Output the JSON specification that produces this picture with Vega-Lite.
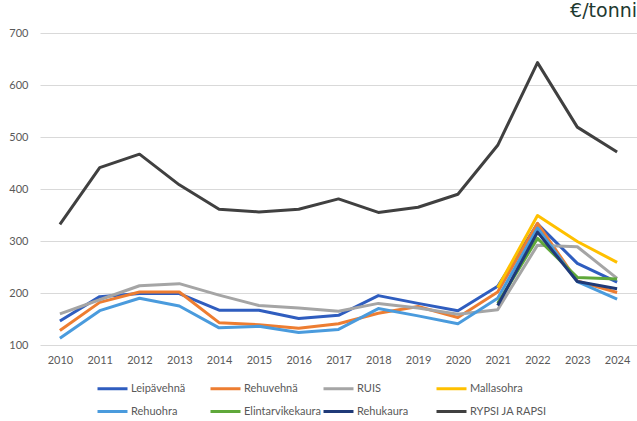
{
  "$schema": "https://vega.github.io/schema/vega-lite/v6.json",
  "autosize": "none",
  "width": 597,
  "height": 312,
  "padding": {"left": 40, "top": 33, "right": 0, "bottom": 76},
  "background": "white",
  "title": {"text": "€/tonni", "anchor": "end", "fontSize": 19, "font": "DejaVu Sans", "fontWeight": "normal", "color": "#1F3A30", "offset": 6},
  "config": {"view": {"stroke": null}},
  "data": {"values": [
    {"year": "2010", "series": "Leipävehnä", "value": 146},
    {"year": "2011", "series": "Leipävehnä", "value": 193},
    {"year": "2012", "series": "Leipävehnä", "value": 199},
    {"year": "2013", "series": "Leipävehnä", "value": 199},
    {"year": "2014", "series": "Leipävehnä", "value": 167},
    {"year": "2015", "series": "Leipävehnä", "value": 167},
    {"year": "2016", "series": "Leipävehnä", "value": 151},
    {"year": "2017", "series": "Leipävehnä", "value": 157},
    {"year": "2018", "series": "Leipävehnä", "value": 195},
    {"year": "2019", "series": "Leipävehnä", "value": 180},
    {"year": "2020", "series": "Leipävehnä", "value": 166},
    {"year": "2021", "series": "Leipävehnä", "value": 213},
    {"year": "2022", "series": "Leipävehnä", "value": 333},
    {"year": "2023", "series": "Leipävehnä", "value": 257},
    {"year": "2024", "series": "Leipävehnä", "value": 221},
    {"year": "2010", "series": "Rehuvehnä", "value": 128},
    {"year": "2011", "series": "Rehuvehnä", "value": 182},
    {"year": "2012", "series": "Rehuvehnä", "value": 202},
    {"year": "2013", "series": "Rehuvehnä", "value": 202},
    {"year": "2014", "series": "Rehuvehnä", "value": 143},
    {"year": "2015", "series": "Rehuvehnä", "value": 139},
    {"year": "2016", "series": "Rehuvehnä", "value": 132},
    {"year": "2017", "series": "Rehuvehnä", "value": 141},
    {"year": "2018", "series": "Rehuvehnä", "value": 161},
    {"year": "2019", "series": "Rehuvehnä", "value": 174},
    {"year": "2020", "series": "Rehuvehnä", "value": 153},
    {"year": "2021", "series": "Rehuvehnä", "value": 202},
    {"year": "2022", "series": "Rehuvehnä", "value": 334},
    {"year": "2023", "series": "Rehuvehnä", "value": 223},
    {"year": "2024", "series": "Rehuvehnä", "value": 201},
    {"year": "2010", "series": "RUIS", "value": 160},
    {"year": "2011", "series": "RUIS", "value": 187},
    {"year": "2012", "series": "RUIS", "value": 214},
    {"year": "2013", "series": "RUIS", "value": 218},
    {"year": "2014", "series": "RUIS", "value": 196},
    {"year": "2015", "series": "RUIS", "value": 176},
    {"year": "2016", "series": "RUIS", "value": 171},
    {"year": "2017", "series": "RUIS", "value": 165},
    {"year": "2018", "series": "RUIS", "value": 180},
    {"year": "2019", "series": "RUIS", "value": 171},
    {"year": "2020", "series": "RUIS", "value": 159},
    {"year": "2021", "series": "RUIS", "value": 168},
    {"year": "2022", "series": "RUIS", "value": 292},
    {"year": "2023", "series": "RUIS", "value": 289},
    {"year": "2024", "series": "RUIS", "value": 228},
    {"year": "2021", "series": "Mallasohra", "value": 210},
    {"year": "2022", "series": "Mallasohra", "value": 349},
    {"year": "2023", "series": "Mallasohra", "value": 299},
    {"year": "2024", "series": "Mallasohra", "value": 259},
    {"year": "2010", "series": "Rehuohra", "value": 113},
    {"year": "2011", "series": "Rehuohra", "value": 166},
    {"year": "2012", "series": "Rehuohra", "value": 190},
    {"year": "2013", "series": "Rehuohra", "value": 175},
    {"year": "2014", "series": "Rehuohra", "value": 133},
    {"year": "2015", "series": "Rehuohra", "value": 136},
    {"year": "2016", "series": "Rehuohra", "value": 124},
    {"year": "2017", "series": "Rehuohra", "value": 130},
    {"year": "2018", "series": "Rehuohra", "value": 170},
    {"year": "2019", "series": "Rehuohra", "value": 156},
    {"year": "2020", "series": "Rehuohra", "value": 141},
    {"year": "2021", "series": "Rehuohra", "value": 190},
    {"year": "2022", "series": "Rehuohra", "value": 325},
    {"year": "2023", "series": "Rehuohra", "value": 222},
    {"year": "2024", "series": "Rehuohra", "value": 188},
    {"year": "2021", "series": "Elintarvikekaura", "value": 180},
    {"year": "2022", "series": "Elintarvikekaura", "value": 305},
    {"year": "2023", "series": "Elintarvikekaura", "value": 230},
    {"year": "2024", "series": "Elintarvikekaura", "value": 227},
    {"year": "2021", "series": "Rehukaura", "value": 176},
    {"year": "2022", "series": "Rehukaura", "value": 317},
    {"year": "2023", "series": "Rehukaura", "value": 222},
    {"year": "2024", "series": "Rehukaura", "value": 208},
    {"year": "2010", "series": "RYPSI JA RAPSI", "value": 332},
    {"year": "2011", "series": "RYPSI JA RAPSI", "value": 441},
    {"year": "2012", "series": "RYPSI JA RAPSI", "value": 467},
    {"year": "2013", "series": "RYPSI JA RAPSI", "value": 408},
    {"year": "2014", "series": "RYPSI JA RAPSI", "value": 361},
    {"year": "2015", "series": "RYPSI JA RAPSI", "value": 356},
    {"year": "2016", "series": "RYPSI JA RAPSI", "value": 361},
    {"year": "2017", "series": "RYPSI JA RAPSI", "value": 381},
    {"year": "2018", "series": "RYPSI JA RAPSI", "value": 355},
    {"year": "2019", "series": "RYPSI JA RAPSI", "value": 365},
    {"year": "2020", "series": "RYPSI JA RAPSI", "value": 390},
    {"year": "2021", "series": "RYPSI JA RAPSI", "value": 484},
    {"year": "2022", "series": "RYPSI JA RAPSI", "value": 643},
    {"year": "2023", "series": "RYPSI JA RAPSI", "value": 519},
    {"year": "2024", "series": "RYPSI JA RAPSI", "value": 471}
  ]},
  "mark": {"type": "line", "strokeWidth": 3, "strokeJoin": "round"},
  "encoding": {
    "x": {"field": "year", "type": "ordinal", "scale": {"type": "point", "padding": 0.5},
      "axis": {"title": null, "labelAngle": 0, "domain": false, "ticks": false, "labelPadding": 9, "labelFont": "Lato", "labelFontSize": 11, "labelColor": "#595959", "grid": false}},
    "y": {"field": "value", "type": "quantitative", "scale": {"domain": [100, 700], "nice": false, "zero": false},
      "axis": {"title": null, "values": [100, 200, 300, 400, 500, 600, 700], "domain": false, "ticks": false, "labelPadding": 12, "labelFont": "Lato", "labelFontSize": 11, "labelColor": "#595959", "gridColor": "#D9D9D9", "gridWidth": 1}},
    "color": {"field": "series", "type": "nominal",
      "sort": ["Leipävehnä", "Rehuvehnä", "RUIS", "Mallasohra", "Rehuohra", "Elintarvikekaura", "Rehukaura", "RYPSI JA RAPSI"],
      "scale": {"domain": ["Leipävehnä", "Rehuvehnä", "RUIS", "Mallasohra", "Rehuohra", "Elintarvikekaura", "Rehukaura", "RYPSI JA RAPSI"],
        "range": ["#2F5DBF", "#ED7D31", "#A5A5A5", "#FFC000", "#4A9BDD", "#5FA83A", "#1F3A78", "#404040"]},
      "legend": {"orient": "none", "direction": "horizontal", "legendX": 56, "legendY": 339, "columns": 4, "gridAlign": "all", "columnPadding": -4, "rowPadding": -7, "title": null,
        "symbolType": "M-1,0H1", "symbolSize": 900, "symbolStrokeWidth": 3, "labelOffset": 2, "labelFont": "Lato", "labelFontSize": 11, "labelColor": "#595959", "labelLimit": 200}
    }
  }
}
